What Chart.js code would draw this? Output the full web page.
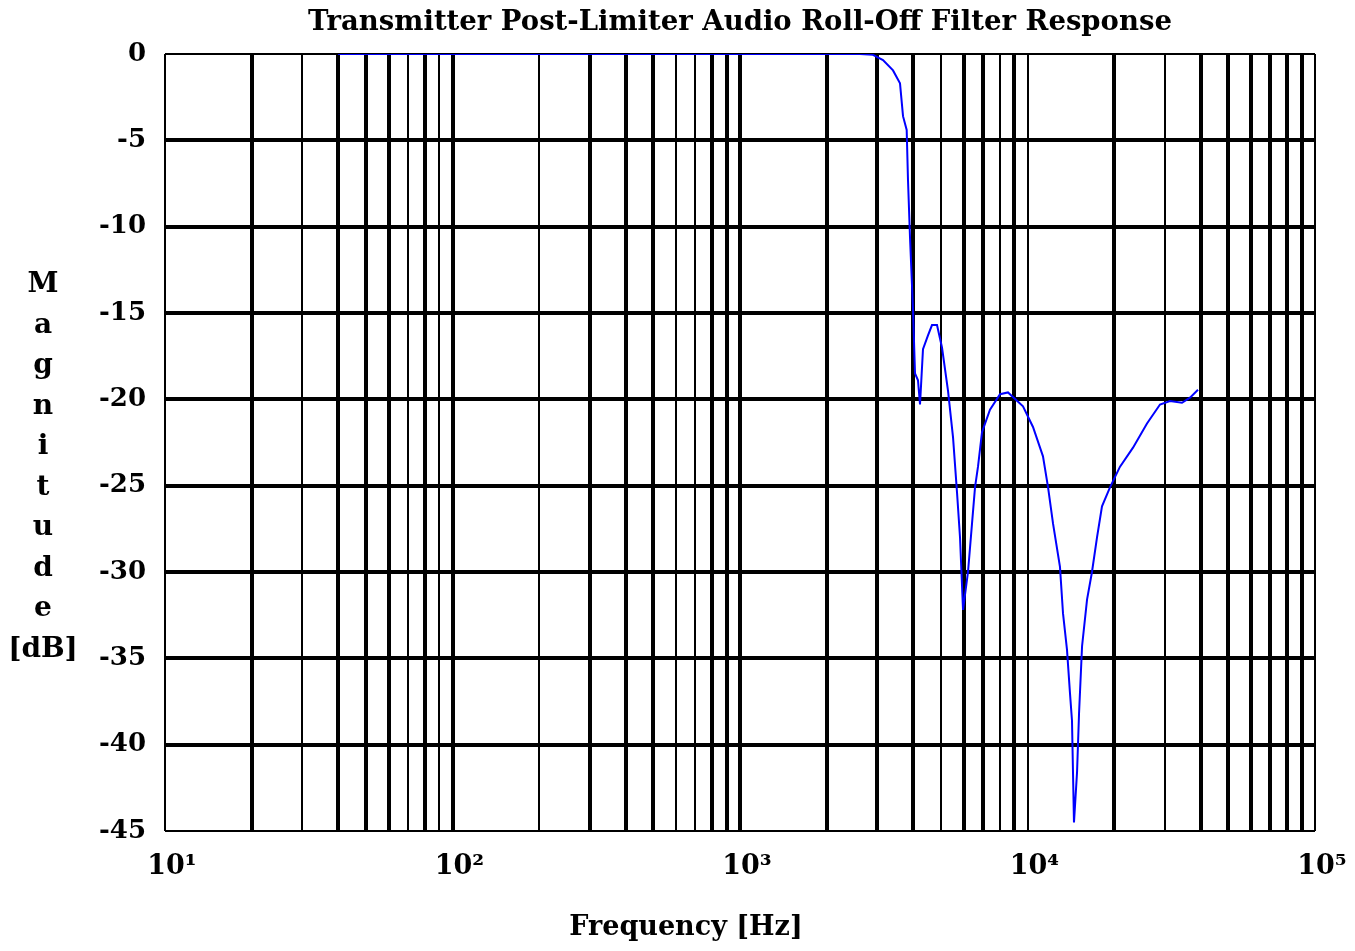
<!DOCTYPE html>
<html lang="en">
<head>
  <meta charset="UTF-8">
  <title>Transmitter Post-Limiter Audio Roll-Off Filter Response</title>
  <style>
    body { margin: 0; background: #fff; }
    .wrap { position: relative; width: 1355px; height: 951px; }
  </style>
</head>
<body>
  <div class="wrap"><canvas id="filterChart"></canvas></div>

  <script src="https://cdn.jsdelivr.net/npm/chart.js"></script>
  <script>
    // response curve (Hz, dB)
    const freqHz = [40, 2615, 2901, 3143, 3406, 3602, 3690, 3800, 3840, 3902, 3997, 4062, 4160, 4228,
      4330, 4507, 4654, 4844, 5042, 5290, 5508, 5687, 5825, 5967, 6209, 6412, 6568, 6727, 6946,
      7405, 8025, 8553, 9646, 10450, 11320, 11790, 12270, 12970, 13290, 13720, 14050, 14280,
      14510, 14870, 15110, 15480, 16110, 16760, 17450, 18160, 19360, 20980, 23280, 26040,
      28900, 31310, 34460, 36750, 39180];
    const magDb = [0, 0, -0.05, -0.35, -0.95, -1.7, -3.6, -4.4, -7.3, -10.6, -14.8, -18.5, -18.9, -20.3,
      -17.1, -16.3, -15.7, -15.7, -17.0, -19.5, -22.2, -25.4, -28.0, -32.2, -30.0, -27.2, -25.1, -23.9, -21.9,
      -20.6, -19.7, -19.6, -20.4, -21.6, -23.3, -25.1, -27.2, -29.7, -32.4, -34.5, -37.0, -38.6,
      -44.5, -41.6, -38.2, -34.3, -31.6, -30.0, -28.0, -26.2, -25.1, -23.9, -22.8, -21.4,
      -20.3, -20.1, -20.2, -19.9, -19.45];

    // axes
    const decades = [10, 100, 1000, 10000, 100000];
    const decadeLabels = ['10¹', '10²', '10³', '10⁴', '10⁵'];
    const gridSteps = [1, 2, 3, 4, 5, 6, 7, 8, 9];
    const magMin = -45;
    const magMax = 0;
    const magStep = 5;

    const chartTitle = 'Transmitter Post-Limiter Audio Roll-Off Filter Response';
    const xTitle = 'Frequency [Hz]';
    const yTitleLetters = ['M', 'a', 'g', 'n', 'i', 't', 'u', 'd', 'e', '[dB]'];

    const gridFreqs = [];
    decades.slice(0, -1).forEach(d => gridFreqs.push(...gridSteps.map(s => s * d)));
    gridFreqs.push(decades[decades.length - 1]);

    // some grid lines are printed thinner in the original
    const thinFreqs = [10, 30, 70, 90, 200, 600, 700, 5000, 8000, 10000, 30000, 100000];
    const serif = "'DejaVu Serif', 'Liberation Serif', serif";

    const axisText = {
      id: 'axisText',
      afterDraw(chart) {
        const ctx = chart.ctx;
        ctx.save();
        ctx.fillStyle = '#000';
        ctx.textAlign = 'center';
        ctx.textBaseline = 'middle';
        ctx.font = 'bold 28px ' + serif;
        yTitleLetters.forEach((s, i) => ctx.fillText(s, 43, 285 + i * 40.5));
        ctx.font = 'bold 27px ' + serif;
        ctx.fillText(xTitle, 686, 928);
        ctx.restore();
      }
    };

    new Chart(document.getElementById('filterChart'), {
      type: 'line',
      data: {
        datasets: [{
          data: freqHz.map((f, i) => ({ x: f, y: magDb[i] })),
          borderColor: '#0000ff',
          borderWidth: 2,
          pointRadius: 0,
          tension: 0,
          fill: false
        }]
      },
      options: {
        responsive: true,
        maintainAspectRatio: false,
        animation: false,
        layout: { padding: { left: 0, right: 40, top: 0, bottom: 0 } },
        plugins: {
          legend: { display: false },
          tooltip: { enabled: false },
          title: {
            display: true,
            text: chartTitle,
            fullSize: false,
            color: '#000',
            font: { family: serif, size: 27.5, weight: 'bold', lineHeight: 1.2 },
            padding: { top: 6, bottom: 15 }
          }
        },
        scales: {
          x: {
            type: 'logarithmic',
            min: decades[0],
            max: decades[decades.length - 1],
            afterFit: s => { s.height = 120; s.paddingLeft = 0; s.paddingRight = 0; },
            afterBuildTicks: s => { s.ticks = gridFreqs.map(v => ({ value: v })); },
            border: { display: false },
            grid: {
              color: '#000',
              drawTicks: false,
              lineWidth: c => (c.tick && thinFreqs.includes(c.tick.value)) ? 2 : 4
            },
            ticks: {
              autoSkip: false,
              maxRotation: 0,
              padding: 20,
              labelOffset: 7,
              color: '#000',
              font: { family: serif, size: 27, weight: 'bold' },
              callback: v => {
                const i = decades.indexOf(v);
                return i >= 0 ? decadeLabels[i] : '';
              }
            }
          },
          y: {
            min: magMin,
            max: magMax,
            afterFit: s => { s.width = 165; },
            border: { display: false },
            grid: {
              color: '#000',
              drawTicks: false,
              lineWidth: c => (c.tick && (c.tick.value === magMin || c.tick.value === magMax)) ? 2 : 4
            },
            ticks: {
              stepSize: magStep,
              padding: 19,
              color: '#000',
              font: { family: serif, size: 26, weight: 'bold' },
              callback: v => String(v)
            }
          }
        }
      },
      plugins: [axisText]
    });
  </script>
</body>
</html>
